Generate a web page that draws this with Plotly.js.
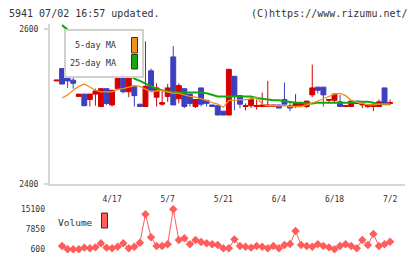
<!DOCTYPE html>
<html>
<head>
<meta charset="utf-8">
<script src="https://cdn.plot.ly/plotly-3.0.1.min.js"></script>
<style>
  html, body { margin: 0; padding: 0; background: #fff; }
  #chart { width: 420px; height: 259px; }
</style>
</head>
<body>
<div id="chart"></div>
<script>
// Trading days shown on the chart (61 sessions)
const dates = [
  '4/3','4/4','4/7','4/8','4/9','4/10','4/11','4/14','4/15','4/16',
  '4/17','4/18','4/21','4/22','4/23','4/24','4/25','4/28','4/30','5/1',
  '5/7','5/8','5/9','5/12','5/13','5/14','5/15','5/16','5/19','5/20',
  '5/21','5/22','5/23','5/26','5/27','5/28','5/29','5/30','6/2','6/3',
  '6/4','6/5','6/6','6/9','6/10','6/11','6/12','6/13','6/16','6/17',
  '6/18','6/19','6/20','6/23','6/24','6/25','6/26','6/27','6/30','7/1',
  '7/2'
];

// Daily OHLC prices (yen)
const openPrice = [
  2533,2549,2538,2534,2513,2516,2509,2516,2500,2523,
  2502,2523,2542,2519,2526,2503,2500,2546,2512,2503,
  2513,2564,2510,2523,2516,2500,2524,2508,2502,2501,
  2494,2489,2539,2514,2500,2501,2500,2500,2500,2500,
  2502,2509,2501,2500,2501,2500,2515,2525,2525,2508,
  2508,2506,2500,2500,2507,2502,2500,2500,2500,2524,
  2504
];
const highPrice = [
  2534,2549,2538,2542,2516,2516,2516,2523,2523,2523,
  2521,2542,2542,2539,2526,2503,2584,2549,2530,2521,
  2529,2578,2530,2523,2516,2509,2524,2508,2502,2501,
  2494,2548,2539,2514,2504,2513,2509,2518,2533,2502,
  2502,2531,2507,2516,2505,2507,2554,2525,2525,2509,
  2517,2515,2501,2507,2507,2507,2502,2503,2509,2524,
  2509
];
const lowPrice = [
  2533,2529,2524,2523,2513,2501,2500,2501,2500,2502,
  2500,2523,2517,2512,2500,2500,2500,2521,2500,2501,
  2506,2502,2504,2498,2500,2498,2500,2500,2500,2489,
  2489,2489,2495,2498,2495,2498,2496,2500,2500,2500,
  2498,2503,2494,2498,2500,2498,2512,2517,2500,2504,
  2504,2500,2500,2500,2503,2498,2498,2494,2500,2503,
  2502
];
const closePrice = [
  2534,2529,2533,2530,2516,2501,2516,2520,2523,2504,
  2521,2542,2519,2539,2514,2500,2526,2521,2524,2505,
  2524,2502,2527,2500,2504,2509,2503,2504,2500,2489,
  2489,2548,2513,2503,2501,2509,2501,2502,2502,2502,
  2498,2503,2498,2504,2505,2507,2524,2521,2515,2509,
  2516,2500,2501,2507,2504,2503,2502,2503,2506,2503,
  2505
];

// Moving averages (yen)
const ma5 = [
  null,2511,2515,2521,2526,2529,2525,2521,2519,2519,
  2519,2522,2523,2525,2527,2526,2523,2519,2520,2521,
  2519,2517,2517,2515,2513,2512,2510,2508,2505,2503,
  2499,2508,2508,2509,2509,2510,2512,2503,2501,2501,
  2501,2501,2500,2500,2500,2502,2504,2507,2510,2513,
  2516,2517,2514,2508,2506,2505,2502,2502,2503,2503,
  2503
];
const ma25 = [
  null,2605,2599,2593,2587,2583,2577,2572,2568,2562,
  2557,2553,2547,2542,2536,2533,2529,2526,2523,2521,
  2519,2519,2518,2518,2518,2518,2518,2517,2515,2513,
  2513,2513,2513,2513,2513,2513,2511,2510,2509,2508,
  2508,2507,2506,2505,2505,2504,2504,2505,2505,2505,
  2505,2505,2505,2505,2506,2506,2506,2505,2503,2503,
  2503
];

// Daily volume (shares)
const volume = [
  null,1800,600,600,600,1200,950,1300,2800,1200,
  950,1550,2800,950,1550,3000,13300,4950,1800,1800,
  2400,15100,3950,4600,2400,3950,3250,2800,2400,2150,
  950,950,4200,1800,1550,1200,1800,1550,950,1800,
  950,2150,2500,7250,2150,1800,1550,2400,1800,1300,
  600,1800,2400,1800,950,3950,2150,6150,1800,2400,
  3350
];

const priceTicks = [2400, 2600];
const volumeTicks = [600, 7850, 15100];
const dateTicks = ['4/17', '5/7', '5/21', '6/4', '6/18', '7/2'];
const maNames = ['5-day MA', '25-day MA'];
const volumeName = 'Volume';
const headerLeft = '5941 07/02 16:57 updated.';
const headerRight = '(C)https://www.rizumu.net/';

// Palette
const RED = '#d40000';
const BLUE = '#3d3fbf';
const ORANGE = '#f0901e';
const GREEN = '#12a812';
const VOL = '#ff5c5c';
const AXIS = '#d6d6d6';
const TEXT = '#333333';
const MONO = 'DejaVu Sans Mono, monospace';

// Page geometry helpers (pixel -> paper fraction)
const W = 420, H = 259;
const fx = x => x / W;
const fy = y => 1 - y / H;

// Plot area edges in pixels
const L = 50, R = 405;
const P_TOP = 24, P_BOT = 184;
const V_TOP = 205, V_BOT = 253;
const xRange = [-1.17, 62.68];

const traces = [
  {
    type: 'candlestick',
    x: dates, open: openPrice, high: highPrice, low: lowPrice, close: closePrice,
    xaxis: 'x', yaxis: 'y',
    increasing: { line: { color: RED, width: 1 }, fillcolor: RED },
    decreasing: { line: { color: BLUE, width: 1 }, fillcolor: BLUE },
    whiskerwidth: 0,
    hoverinfo: 'skip', showlegend: false
  },
  {
    type: 'scatter', mode: 'lines', name: maNames[1],
    x: dates, y: ma25, xaxis: 'x', yaxis: 'y',
    line: { color: GREEN, width: 2 }, hoverinfo: 'skip', showlegend: false
  },
  {
    type: 'scatter', mode: 'lines', name: maNames[0],
    x: dates, y: ma5, xaxis: 'x', yaxis: 'y',
    line: { color: ORANGE, width: 1.3 }, hoverinfo: 'skip', showlegend: false
  },
  {
    type: 'scatter', mode: 'lines+markers', name: volumeName,
    x: dates, y: volume, xaxis: 'x2', yaxis: 'y2',
    line: { color: VOL, width: 1 },
    marker: { symbol: 'diamond', size: 6.5, color: VOL },
    hoverinfo: 'skip', showlegend: false
  }
];

const tickAxisBase = {
  overlaying: 'x', anchor: 'y', domain: [fx(L), fx(R)],
  range: [0, 11], tickvals: [0,1,2,3,4,5,6,7,8,9,10,11],
  showticklabels: false, showgrid: false, zeroline: false, showline: false,
  tickcolor: AXIS, tickwidth: 2, fixedrange: true
};

const layout = {
  width: W, height: H,
  margin: { l: 0, r: 0, t: 0, b: 0 },
  paper_bgcolor: '#fff', plot_bgcolor: '#fff',
  showlegend: false,
  boxgap: 0.12,
  boxgroupgap: 0,
  font: { family: MONO, color: TEXT, size: 8 },
  xaxis: {
    type: 'category', domain: [fx(L), fx(R)], range: xRange, anchor: 'y',
    tickvals: dateTicks, ticktext: dateTicks,
    ticks: 'outside', ticklen: 6, tickcolor: 'rgba(0,0,0,0)',
    showline: true, linecolor: AXIS, linewidth: 2,
    showgrid: false, zeroline: false,
    tickfont: { family: MONO, size: 8, color: TEXT },
    rangeslider: { visible: false }, fixedrange: true
  },
  xaxis3: Object.assign({}, tickAxisBase, { ticks: 'outside', ticklen: 6 }),
  xaxis4: Object.assign({}, tickAxisBase, { ticks: 'inside', ticklen: 4 }),
  yaxis: {
    domain: [fy(P_BOT), fy(P_TOP)],
    range: [2400, 2400 + (P_BOT - P_TOP) / 0.775],
    tickvals: priceTicks, ticktext: priceTicks.map(String),
    ticks: 'outside', ticklen: 4, tickwidth: 2, tickcolor: AXIS,
    showline: true, linecolor: AXIS, linewidth: 2,
    showgrid: false, zeroline: false,
    tickfont: { family: MONO, size: 8, color: TEXT },
    ticklabelstandoff: 4, fixedrange: true
  },
  yaxis3: {
    overlaying: 'y', anchor: 'x', domain: [fy(P_BOT), fy(P_TOP)],
    range: [2400, 2400 + (P_BOT - P_TOP) / 0.775],
    tickvals: priceTicks, ticks: 'inside', ticklen: 3, tickwidth: 2, tickcolor: AXIS,
    showticklabels: false, showgrid: false, zeroline: false, showline: false,
    fixedrange: true
  },
  xaxis2: {
    type: 'category', domain: [fx(L), fx(R)], range: xRange, anchor: 'y2',
    visible: false, fixedrange: true
  },
  yaxis2: {
    domain: [fy(V_BOT), fy(V_TOP)],
    range: [600 - (V_BOT - 249.3) * 362.5, 15100 + (209.3 - V_TOP) * 362.5],
    tickvals: volumeTicks, ticktext: volumeTicks.map(String),
    ticks: '', showline: false, showgrid: false, zeroline: false,
    tickfont: { family: MONO, size: 8, color: TEXT },
    ticklabelstandoff: 4, fixedrange: true
  },
  shapes: [
    // MA key box
    { type: 'rect', xref: 'paper', yref: 'paper', layer: 'above',
      x0: fx(65), x1: fx(143), y0: fy(77), y1: fy(30),
      line: { color: '#d0d0d0', width: 2 }, fillcolor: '#fff' },
    { type: 'rect', xref: 'paper', yref: 'paper', layer: 'above',
      x0: fx(131.5), x1: fx(137.5), y0: fy(53), y1: fy(37.5),
      line: { color: '#333', width: 1 }, fillcolor: ORANGE },
    { type: 'rect', xref: 'paper', yref: 'paper', layer: 'above',
      x0: fx(131.5), x1: fx(137.5), y0: fy(69), y1: fy(54.5),
      line: { color: '#333', width: 1 }, fillcolor: GREEN },
    // Volume key swatch
    { type: 'rect', xref: 'paper', yref: 'paper', layer: 'above',
      x0: fx(101.5), x1: fx(107.5), y0: fy(228), y1: fy(213),
      line: { color: '#333', width: 1 }, fillcolor: VOL }
  ],
  annotations: [
    { xref: 'paper', yref: 'paper', x: fx(7), y: fy(13), xanchor: 'left', yanchor: 'middle',
      text: headerLeft, showarrow: false, font: { family: MONO, size: 10, color: TEXT } },
    { xref: 'paper', yref: 'paper', x: fx(410), y: fy(13), xanchor: 'right', yanchor: 'middle',
      text: headerRight, showarrow: false, font: { family: MONO, size: 10, color: TEXT } },
    { xref: 'paper', yref: 'paper', x: fx(118), y: fy(45.5), xanchor: 'right', yanchor: 'middle',
      text: maNames[0], showarrow: false, font: { family: MONO, size: 8.5, color: TEXT } },
    { xref: 'paper', yref: 'paper', x: fx(118), y: fy(63), xanchor: 'right', yanchor: 'middle',
      text: maNames[1], showarrow: false, font: { family: MONO, size: 8.5, color: TEXT } },
    { xref: 'paper', yref: 'paper', x: fx(95), y: fy(222.5), xanchor: 'right', yanchor: 'middle',
      text: volumeName, showarrow: false, font: { family: MONO, size: 9.5, color: TEXT } }
  ]
};

Plotly.newPlot('chart', traces, layout, { staticPlot: true, displayModeBar: false });
</script>
</body>
</html>
